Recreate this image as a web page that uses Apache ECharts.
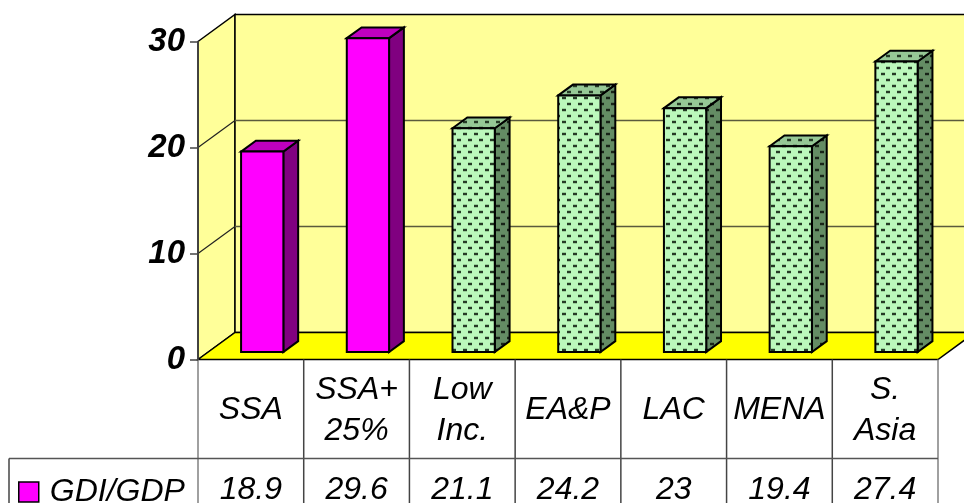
<!DOCTYPE html>
<html><head><meta charset="utf-8">
<style>html,body{margin:0;padding:0;background:#fff}#c{width:964px;height:503px}</style>
<script src="https://cdn.jsdelivr.net/npm/echarts@6/dist/echarts.min.js"></script>
</head><body><div id="c"></div>
<script>
var categories = ['SSA', 'SSA+\n25%', 'Low\nInc.', 'EA&P', 'LAC', 'MENA', 'S.\nAsia'];
var gdiGdp = [18.9, 29.6, 21.1, 24.2, 23, 19.4, 27.4];
var solidCount = 2;
var yTicks = [0, 10, 20, 30];
var seriesName = 'GDI/GDP';

var FONT = '"Liberation Sans", Arial, sans-serif';
var DX = 37, DY = -27;          // depth vector of the 3-D box
var F0 = 0.28, F1 = 0.68;       // front/back of bars as fraction of depth
var BAR = 0.40;                 // bar width as fraction of band
var BARSHIFT = 1;               // small sideways offset of bars
var ROW1 = 99, ROW2 = 143;      // table row bottoms, below the axis zero

function dashTile(bg, halo, dark) {
  var c = document.createElement('canvas');
  c.width = 11; c.height = 12;
  var g = c.getContext('2d');
  g.fillStyle = bg; g.fillRect(0, 0, 11, 12);
  g.fillStyle = halo;
  g.fillRect(1, 0, 4, 4);
  g.fillRect(6, 6, 4, 4);
  g.fillStyle = dark;
  g.fillRect(1, 1, 4, 2);
  g.fillRect(6, 7, 4, 2);
  return c;
}
var patFront = {image: dashTile('#BCF8BC', '#98D098', '#263A26'), repeat: 'repeat'};
var patTop   = {image: dashTile('#96C896', '#7CA87C', '#263A26'), repeat: 'repeat'};
var patSide  = {image: dashTile('#648C64', '#547454', '#182418'), repeat: 'repeat'};

function poly(pts, fill, stroke, lw) {
  return {type: 'polygon', shape: {points: pts},
    style: {fill: fill, stroke: stroke || '#000', lineWidth: lw === undefined ? 1.5 : lw, lineJoin: 'miter'}};
}
function seg(x1, y1, x2, y2, col, lw) {
  return {type: 'line', shape: {x1: x1, y1: y1, x2: x2, y2: y2}, style: {stroke: col, lineWidth: lw || 1.5}};
}
function extent(api) {
  var band = api.size([1, 0])[0];
  var a = api.coord([0, 0]), b = api.coord([categories.length - 1, 30]);
  return {band: band, l: a[0] - band / 2, r: b[0] + band / 2, y0: a[1], y30: b[1]};
}

var option = {
  animation: false,
  backgroundColor: '#fff',
  grid: {left: 198, right: 26, top: 41.5, bottom: 143.5, containLabel: false},
  legend: {
    left: 18, top: 476, itemWidth: 20, itemHeight: 20, itemGap: 0, padding: 0,
    icon: 'rect', selectedMode: false,
    data: [{name: seriesName, itemStyle: {color: '#FF00FF', borderColor: '#000', borderWidth: 1.5}}],
    textStyle: {fontFamily: FONT, fontStyle: 'italic', fontSize: 32, color: '#000', padding: [0, 0, 0, 6]}
  },
  xAxis: {
    type: 'category', data: categories, z: 6,
    axisLine: {show: false}, axisTick: {show: false},
    axisLabel: {interval: 0, margin: 51, verticalAlign: 'middle', align: 'center',
      fontFamily: FONT, fontStyle: 'italic', fontSize: 32, lineHeight: 41, color: '#000'}
  },
  yAxis: {
    type: 'value', min: 0, max: 30, interval: 10, z: 6,
    axisLine: {show: true, lineStyle: {color: '#444', width: 1.5}},
    axisTick: {show: true, length: 8, lineStyle: {color: '#444', width: 1.5}},
    splitLine: {show: false},
    axisLabel: {margin: 13, fontFamily: FONT, fontStyle: 'italic', fontWeight: 'bold', fontSize: 33, color: '#000'}
  },
  series: [
    { // walls and floor of the box
      type: 'custom', z: 1, silent: true, data: [[0, 0]], encode: {x: 0, y: 1},
      renderItem: function (p, api) {
        var e = extent(api);
        return {type: 'group', children: [
          poly([[e.l, e.y30], [e.l + DX, e.y30 + DY], [e.l + DX, e.y0 + DY], [e.l, e.y0]], '#FFFF99'),
          poly([[e.l + DX, e.y30 + DY], [e.r + DX, e.y30 + DY], [e.r + DX, e.y0 + DY], [e.l + DX, e.y0 + DY]], '#FFFF99'),
          poly([[e.l, e.y0], [e.l + DX, e.y0 + DY], [e.r + DX, e.y0 + DY], [e.r, e.y0]], '#FFFF00')
        ]};
      }
    },
    { // gridlines round the side wall and along the back wall
      type: 'custom', z: 2, silent: true,
      data: yTicks.filter(function (t) { return t > 0 && t < 30; }).map(function (t) { return [0, t]; }),
      encode: {x: 0, y: 1},
      renderItem: function (p, api) {
        var e = extent(api), y = api.coord([0, api.value(1)])[1];
        return {type: 'group', children: [
          seg(e.l, y, e.l + DX, y + DY, '#222', 1.2),
          seg(e.l + DX, y + DY, e.r + DX, y + DY, '#5a5a3c', 1.5)
        ]};
      }
    },
    { // the table grid
      type: 'custom', z: 3, silent: true, data: [[0, 0]], encode: {x: 0, y: 1},
      renderItem: function (p, api) {
        var e = extent(api), kids = [], i;
        for (i = 0; i <= categories.length; i++) {
          var x = e.l + i * e.band, edge = i === 0 || i === categories.length;
          kids.push(seg(x, e.y0, x, e.y0 + ROW2 + 2, edge ? '#808080' : '#444', 1.5));
        }
        kids.push(seg(9, e.y0 + ROW1, e.r, e.y0 + ROW1, '#555', 1.5));
        kids.push(seg(9, e.y0 + ROW1, 9, e.y0 + ROW2 + 2, '#444', 1.5));
        return {type: 'group', children: kids};
      }
    },
    { // the bars, plus the value row of the table
      type: 'custom', name: seriesName, z: 4, silent: true,
      itemStyle: {color: '#FF00FF'},
      data: gdiGdp.map(function (v, i) { return [i, v]; }), encode: {x: 0, y: 1},
      renderItem: function (p, api) {
        var i = api.value(0), v = api.value(1);
        var c = api.coord([i, v]), o = api.coord([i, 0]);
        var w = api.size([1, 0])[0] * BAR;
        var solid = i < solidCount;
        var fx = F0 * DX, fy = F0 * DY, bx = F1 * DX, by = F1 * DY;
        var xl = c[0] - w / 2 + BARSHIFT, xr = c[0] + w / 2 + BARSHIFT;
        var front = [[xl + fx, c[1] + fy], [xr + fx, c[1] + fy], [xr + fx, o[1] + fy], [xl + fx, o[1] + fy]];
        var top = [[xl + fx, c[1] + fy], [xl + bx, c[1] + by], [xr + bx, c[1] + by], [xr + fx, c[1] + fy]];
        var side = [[xr + fx, c[1] + fy], [xr + bx, c[1] + by], [xr + bx, o[1] + by], [xr + fx, o[1] + fy]];
        return {type: 'group', children: [
          poly(side, solid ? '#800080' : patSide, '#000', 2),
          poly(top, solid ? '#BF00BF' : patTop, '#000', 2),
          poly(front, solid ? '#FF00FF' : patFront, '#000', 2),
          {type: 'text', x: c[0], y: o[1] + (ROW1 + ROW2) / 2 + 10,
            style: {text: String(v), fontFamily: FONT, fontStyle: 'italic', fontSize: 32,
              fill: '#000', align: 'center', verticalAlign: 'middle'}}
        ]};
      }
    }
  ]
};
var chart = echarts.init(document.getElementById('c'), null, {renderer: 'canvas'});
chart.setOption(option);
</script></body></html>
